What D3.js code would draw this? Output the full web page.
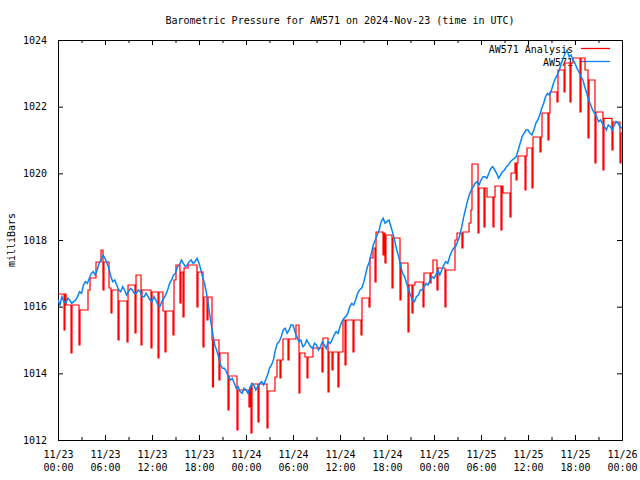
<!DOCTYPE html>
<html><head><meta charset="utf-8">
<script src="https://cdn.jsdelivr.net/npm/d3@7"></script>
<style>
body{margin:0;background:#fff}
svg{display:block;background:#fff}
text{font-family:"DejaVu Sans Mono","Liberation Mono",monospace;font-size:10px;fill:#000}
</style>
</head><body>
<svg id="chart" width="640" height="480"></svg>
<script>
// ---------------- data ----------------
const chartTitle = "Barometric Pressure for AW571 on 2024-Nov-23 (time in UTC)";
const yAxisLabel = "milliBars";
const seriesNames = ["AW571 Analysis", "AW571"];
const startTimeUTC = Date.UTC(2024, 10, 23, 0, 0);
const totalHours = 72;

// AW571 observations, every 15 minutes from 11/23 00:00
const blueStepHours = 0.25;
const blueValues = [
 1016.2,1016.05,1016.3,1016.15,1016.1,1016.25,1016.2,1016.1,1016.15,1016.2,1016.3,1016.45,1016.4,1016.65,1016.75,1016.7,1016.85,1017.0,1017.05,1016.95,
 1017.1,1017.3,1017.4,1017.55,1017.45,1017.3,1017.15,1016.9,1016.75,1016.8,1016.65,1016.5,1016.45,1016.6,1016.5,1016.35,1016.45,1016.55,1016.5,1016.4,
 1016.4,1016.5,1016.45,1016.3,1016.3,1016.4,1016.3,1016.2,1016.15,1016.3,1016.2,1016.05,1016.0,1016.15,1016.25,1016.35,1016.5,1016.7,1016.8,1016.95,
 1017.0,1017.2,1017.25,1017.4,1017.3,1017.2,1017.25,1017.35,1017.4,1017.3,1017.35,1017.45,1017.3,1017.1,1016.85,1016.65,1016.35,1015.95,1015.55,1015.2,
 1014.85,1014.7,1014.5,1014.25,1014.15,1014.15,1014.05,1013.9,1013.8,1013.85,1013.7,1013.55,1013.6,1013.45,1013.4,1013.55,1013.5,1013.4,1013.55,1013.7,
 1013.65,1013.5,1013.6,1013.7,1013.75,1013.65,1013.8,1013.95,1014.15,1014.25,1014.4,1014.7,1014.9,1014.95,1015.1,1015.3,1015.35,1015.2,1015.3,1015.45,
 1015.45,1015.25,1015.1,1014.95,1015.0,1014.8,1014.85,1015.0,1014.9,1014.8,1014.75,1014.9,1014.85,1014.7,1014.8,1014.95,1014.85,1014.75,1014.95,1014.9,
 1015.0,1015.15,1015.25,1015.2,1015.4,1015.55,1015.65,1015.7,1015.8,1016.0,1016.1,1016.05,1016.2,1016.4,1016.5,1016.55,1016.7,1016.95,1017.2,1017.35,
 1017.6,1017.85,1018.0,1018.15,1018.3,1018.55,1018.65,1018.5,1018.55,1018.6,1018.4,1018.2,1017.95,1017.7,1017.5,1017.2,1017.0,1016.9,1016.7,1016.5,
 1016.35,1016.2,1016.15,1016.3,1016.35,1016.5,1016.5,1016.6,1016.7,1016.65,1016.8,1016.9,1016.85,1016.95,1017.1,1016.95,1017.1,1017.25,1017.35,1017.3,
 1017.5,1017.65,1017.75,1017.8,1017.95,1018.1,1018.35,1018.65,1018.9,1019.15,1019.35,1019.5,1019.6,1019.7,1019.75,1019.65,1019.8,1019.9,1019.9,1019.85,
 1020.0,1020.15,1020.2,1020.1,1020.0,1019.85,1019.95,1020.05,1020.1,1020.2,1020.25,1020.35,1020.4,1020.45,1020.5,1020.7,1020.9,1021.1,1021.2,1021.3,
 1021.3,1021.2,1021.15,1021.3,1021.5,1021.6,1021.75,1021.95,1022.1,1022.3,1022.4,1022.35,1022.5,1022.7,1022.85,1022.95,1023.1,1023.3,1023.45,1023.6,
 1023.7,1023.5,1023.55,1023.4,1023.3,1023.15,1023.05,1022.9,1022.8,1022.6,1022.4,1022.2,1022.05,1021.9,1021.8,1021.7,1021.55,1021.6,1021.5,1021.4,
 1021.3,1021.45,1021.4,1021.3,1021.45,1021.55,1021.5,1021.4,1021.35
];

// AW571 Analysis: stepped values (hours since 11/23 00:00)
const redHours = [
 0,0.77,0.89,1.02,1.66,1.79,2.68,2.81,3.83,4.09,4.85,5.49,5.74,5.87,6.51,6.77,6.89,7.66,7.79,8.81,
 8.94,9.83,9.96,10.6,10.72,11.87,12.0,12.77,12.89,13.4,13.66,13.79,14.68,14.81,15.06,15.57,15.7,15.96,16.09,16.6,
 17.74,17.87,18.51,18.64,19.02,19.15,19.66,19.72,19.85,20.55,20.68,21.7,21.83,22.85,22.98,24.38,24.51,24.64,24.77,25.53,
 25.66,26.68,26.81,27.7,27.96,28.34,28.47,28.72,29.36,29.49,30.38,30.77,30.89,31.53,31.79,31.91,32.55,33.7,33.83,34.47,
 34.6,34.98,35.11,35.74,35.87,36.38,36.64,36.77,37.66,37.79,38.68,38.81,39.7,39.83,40.21,40.47,40.6,41.49,41.62,41.74,
 41.87,42.64,42.77,43.66,43.79,44.68,44.81,45.19,45.32,45.57,46.6,46.72,47.49,47.62,47.87,48.38,48.51,49.4,49.53,50.68,
 50.94,51.57,51.7,52.47,52.72,52.85,53.62,53.74,54.38,54.51,54.77,55.53,55.66,55.79,56.55,56.68,56.81,57.7,57.83,58.34,
 58.47,58.6,58.72,59.62,59.74,59.87,60.51,60.64,61.53,61.66,61.79,62.55,62.68,62.81,63.7,63.83,64.6,64.72,65.36,65.49,
 65.74,66.64,66.77,67.28,67.66,67.79,68.55,68.68,69.57,69.7,70.72,70.85,71.74,71.87,72
];
const redValues = [
 1016.38,1015.3,1016.38,1016.05,1014.61,1016.05,1014.85,1015.9,1016.5,1016.86,1017.34,1017.7,1016.5,1017.34,1016.56,1015.81,1016.5,1015.0,1016.17,1014.94,
 1016.65,1015.21,1016.95,1014.85,1016.5,1014.76,1016.44,1014.46,1016.44,1015.87,1014.64,1015.87,1015.15,1016.8,1017.25,1016.11,1017.04,1015.69,1017.16,1017.25,
 1015.99,1017.04,1014.79,1016.29,1015.6,1016.29,1015.0,1013.59,1015.0,1013.8,1014.61,1012.9,1013.92,1012.3,1013.5,1012.99,1013.59,1012.21,1013.68,1012.54,
 1013.68,1012.36,1013.47,1013.89,1014.4,1013.86,1014.4,1015.03,1014.4,1015.03,1015.45,1013.41,1014.61,1014.49,1013.86,1014.49,1014.76,1014.04,1015.06,1013.44,
 1014.64,1014.1,1014.64,1013.59,1014.64,1015.6,1014.25,1015.6,1014.64,1015.6,1015.15,1016.26,1015.99,1017.46,1017.76,1016.74,1018.24,1017.55,1018.21,1017.31,
 1018.15,1016.56,1018.06,1016.2,1017.31,1015.24,1016.65,1015.81,1016.65,1016.74,1015.99,1017.01,1016.71,1017.01,1017.4,1016.5,1017.16,1015.99,1017.1,1018.0,
 1018.21,1017.76,1018.24,1018.51,1018.9,1020.28,1018.21,1019.56,1018.39,1019.56,1019.29,1018.39,1019.29,1019.62,1018.3,1019.62,1019.41,1018.69,1020.01,1020.31,
 1019.8,1020.31,1020.52,1019.5,1020.52,1020.76,1019.56,1021.09,1020.64,1021.09,1021.81,1021.0,1021.81,1022.44,1022.14,1023.1,1022.44,1023.31,1022.14,1023.31,
 1023.46,1021.84,1023.46,1023.1,1021.06,1022.8,1020.31,1021.84,1020.1,1021.65,1020.7,1021.54,1020.31,1021.21,1021.21
];

const yTickValues = [1012,1014,1016,1018,1020,1022,1024];
const xTickHours = [0,6,12,18,24,30,36,42,48,54,60,66,72];
const xMinorHours = [3,9,15,21,27,33,39,45,51,57,63,69];
const yDomain = [1012, 1024];

const colors = ["#ff0000", "#0a84f5"];

// ---------------- chart ----------------
const svg = d3.select("#chart");
const W = 640, H = 480;
const margin = {left: 58, right: 18, top: 40, bottom: 40};
const toDate = h => new Date(startTimeUTC + h * 3600e3);

const x = d3.scaleUtc().domain([toDate(0), toDate(totalHours)]).range([margin.left, W - margin.right]);
const y = d3.scaleLinear().domain(yDomain).range([H - margin.bottom, margin.top]);

svg.append("rect").attr("width", W).attr("height", H).attr("fill", "#fff");

svg.append("text").attr("x", (margin.left + W - margin.right) / 2).attr("y", 20)
  .attr("dy", "0.35em").attr("text-anchor", "middle").text(chartTitle);

svg.append("text").attr("transform", `translate(11,${(margin.top + H - margin.bottom) / 2}) rotate(-90)`)
  .attr("dy", "0.35em").attr("text-anchor", "middle").text(yAxisLabel);

const majorLen = 5, minorLen = 3;

const gB = svg.append("g").attr("transform", `translate(0,${H - margin.bottom})`)
  .call(d3.axisBottom(x).tickValues(xTickHours.map(toDate)).tickSize(-majorLen).tickSizeOuter(0).tickFormat(""));
gB.select(".domain").remove();
gB.selectAll(".tick").append("text")
  .attr("y", 14).attr("text-anchor", "middle")
  .each(function(d) {
    const t = d3.select(this);
    t.append("tspan").attr("x", 0).attr("dy", "0.35em").text(d3.utcFormat("%m/%d")(d));
    t.append("tspan").attr("x", 0).attr("dy", "1.3em").text(d3.utcFormat("%H:%M")(d));
  });
svg.append("g").attr("transform", `translate(0,${H - margin.bottom})`)
  .call(d3.axisBottom(x).tickValues(xMinorHours.map(toDate)).tickSize(-minorLen).tickSizeOuter(0).tickFormat(""))
  .select(".domain").remove();

const gT = svg.append("g").attr("transform", `translate(0,${margin.top})`)
  .call(d3.axisTop(x).tickValues(xTickHours.map(toDate)).tickSize(-majorLen).tickSizeOuter(0).tickFormat(""));
gT.select(".domain").remove();
svg.append("g").attr("transform", `translate(0,${margin.top})`)
  .call(d3.axisTop(x).tickValues(xMinorHours.map(toDate)).tickSize(-minorLen).tickSizeOuter(0).tickFormat(""))
  .select(".domain").remove();

const gL = svg.append("g").attr("transform", `translate(${margin.left},0)`)
  .call(d3.axisLeft(y).tickValues(yTickValues).tickSize(-majorLen).tickSizeOuter(0).tickPadding(11).tickFormat(d3.format("d")));
gL.select(".domain").remove();

const gR = svg.append("g").attr("transform", `translate(${W - margin.right},0)`)
  .call(d3.axisRight(y).tickValues(yTickValues).tickSize(-majorLen).tickSizeOuter(0).tickFormat(""));
gR.select(".domain").remove();

svg.selectAll(".tick line").attr("stroke", "#000");
svg.selectAll("g").attr("font-family", null).attr("font-size", null);

svg.append("rect").attr("x", margin.left + 0.5).attr("y", margin.top + 0.5)
  .attr("width", W - margin.left - margin.right).attr("height", H - margin.top - margin.bottom)
  .attr("fill", "none").attr("stroke", "#000");

const legY = [49, 62];
seriesNames.forEach((name, i) => {
  svg.append("text").attr("x", 573).attr("y", legY[i]).attr("dy", "0.35em")
    .attr("text-anchor", "end").text(name);
  svg.append("line").attr("x1", 581).attr("x2", 610).attr("y1", legY[i] - 0.5).attr("y2", legY[i] - 0.5)
    .attr("stroke", colors[i]).attr("stroke-width", 1.3);
});

const redData = redHours.map((h, i) => ({t: toDate(h), v: redValues[i]}));
const blueData = blueValues.map((v, i) => ({t: toDate(i * blueStepHours), v}));

svg.append("clipPath").attr("id", "plotclip").append("rect")
  .attr("x", margin.left).attr("y", margin.top)
  .attr("width", W - margin.left - margin.right).attr("height", H - margin.top - margin.bottom);

svg.append("path").datum(redData)
  .attr("clip-path", "url(#plotclip)")
  .attr("fill", "none").attr("stroke", colors[0]).attr("stroke-width", 1.2)
  .attr("d", d3.line().x(d => x(d.t)).y(d => y(d.v)).curve(d3.curveStepAfter));

svg.append("path").datum(blueData)
  .attr("clip-path", "url(#plotclip)")
  .attr("fill", "none").attr("stroke", colors[1]).attr("stroke-width", 1.5)
  .attr("d", d3.line().x(d => x(d.t)).y(d => y(d.v)));
</script>
</body></html>
